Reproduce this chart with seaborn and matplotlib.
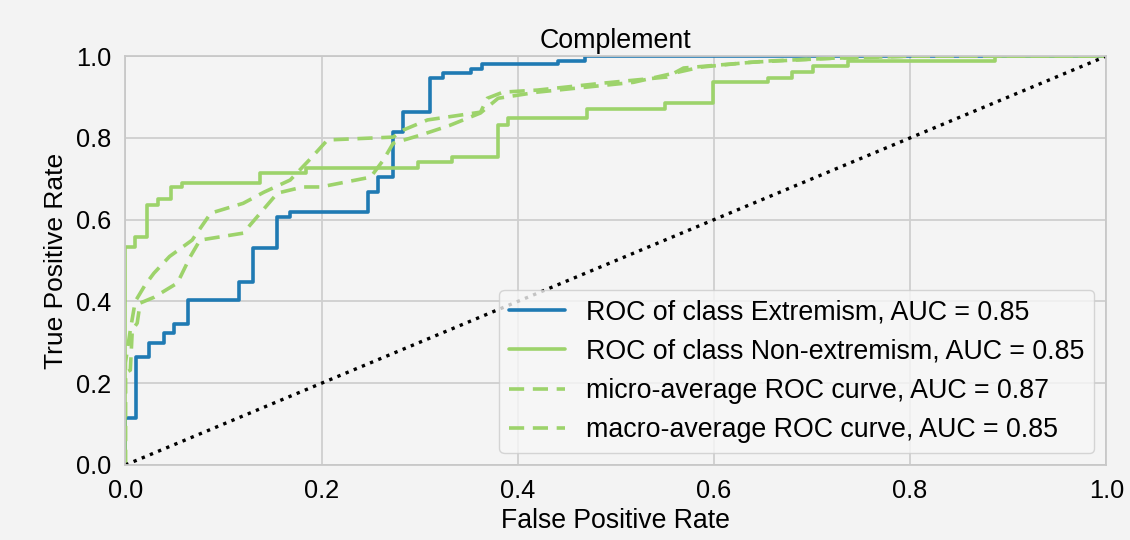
import numpy as np
import pandas as pd
import matplotlib
matplotlib.use("Agg")
import matplotlib.pyplot as plt
import seaborn as sns

# ---- data ----
ext_fpr = [0, 0, 0.011, 0.011, 0.024, 0.024, 0.039, 0.039, 0.050, 0.050, 0.064, 0.064,
           0.116, 0.116, 0.130, 0.130, 0.155, 0.155, 0.168, 0.168, 0.247, 0.247, 0.258, 0.258,
           0.273, 0.273, 0.283, 0.283, 0.311, 0.311, 0.324, 0.324, 0.352, 0.352, 0.364, 0.364,
           0.441, 0.441, 0.469, 0.469, 1.0]
ext_tpr = [0, 0.115, 0.115, 0.264, 0.264, 0.298, 0.298, 0.323, 0.323, 0.345, 0.345, 0.403,
           0.403, 0.447, 0.447, 0.531, 0.531, 0.606, 0.606, 0.619, 0.619, 0.668, 0.668, 0.704,
           0.704, 0.814, 0.814, 0.863, 0.863, 0.946, 0.946, 0.958, 0.958, 0.968, 0.968, 0.980,
           0.980, 0.988, 0.988, 1.0, 1.0]

non_fpr = [0, 0, 0.010, 0.010, 0.022, 0.022, 0.033, 0.033, 0.046, 0.046, 0.058, 0.058,
           0.137, 0.137, 0.184, 0.184, 0.298, 0.298, 0.333, 0.333, 0.380, 0.380, 0.390, 0.390,
           0.471, 0.471, 0.550, 0.550, 0.599, 0.599, 0.655, 0.655, 0.680, 0.680, 0.701, 0.701,
           0.737, 0.737, 0.887, 0.887, 1.0]
non_tpr = [0, 0.533, 0.533, 0.557, 0.557, 0.636, 0.636, 0.650, 0.650, 0.680, 0.680, 0.689,
           0.689, 0.714, 0.714, 0.726, 0.726, 0.741, 0.741, 0.753, 0.753, 0.831, 0.831, 0.848,
           0.848, 0.870, 0.870, 0.885, 0.885, 0.936, 0.936, 0.946, 0.946, 0.961, 0.961, 0.976,
           0.976, 0.988, 0.988, 1.0, 1.0]

micro_fpr = [0, 0, 0.005, 0.010, 0.020, 0.029, 0.045, 0.068, 0.087, 0.120, 0.141, 0.168,
             0.189, 0.206, 0.273, 0.283, 0.308, 0.362, 0.369, 0.385, 0.420, 0.487, 0.552,
             0.569, 0.603, 0.654, 0.722, 0.800, 1.0]
micro_tpr = [0, 0.250, 0.330, 0.400, 0.440, 0.469, 0.510, 0.550, 0.616, 0.640, 0.667, 0.697,
             0.750, 0.795, 0.802, 0.819, 0.844, 0.863, 0.897, 0.912, 0.917, 0.934, 0.949,
             0.971, 0.978, 0.988, 0.995, 1.0, 1.0]

macro_fpr = [0, 0, 0.005, 0.007, 0.012, 0.015, 0.029, 0.053, 0.066, 0.076, 0.120, 0.155,
             0.181, 0.199, 0.250, 0.263, 0.273, 0.301, 0.330, 0.362, 0.380, 0.420, 0.518,
             0.586, 0.637, 0.720, 0.800, 1.0]
macro_tpr = [0, 0.225, 0.232, 0.330, 0.347, 0.396, 0.410, 0.445, 0.509, 0.550, 0.567, 0.665,
             0.680, 0.680, 0.704, 0.746, 0.787, 0.807, 0.830, 0.861, 0.897, 0.912, 0.936,
             0.973, 0.985, 0.995, 1.0, 1.0]

labels = ["ROC of class Extremism, AUC = 0.85",
          "ROC of class Non-extremism, AUC = 0.85",
          "micro-average ROC curve, AUC = 0.87",
          "macro-average ROC curve, AUC = 0.85"]
chance_x = [0, 1]
chance_y = [0, 1]
tick_vals = [0, 0.2, 0.4, 0.6, 0.8, 1.0]
tick_labels = ["0.0", "0.2", "0.4", "0.6", "0.8", "1.0"]

# ---- style ----
sns.set_theme(style="whitegrid")
plt.rcParams["font.family"] = ["Liberation Sans", "DejaVu Sans"]
plt.rcParams["text.color"] = "black"
BG = "#f3f3f3"
BLUE = "#1f7ab3"
GREEN = "#9dd36b"

fig = plt.figure(figsize=(11.3, 5.4), dpi=100, facecolor=BG)
ax = fig.add_axes([0.111, 0.139, 0.868, 0.757])
ax.set_facecolor("#f4f4f4")

series = [
    (ext_fpr, ext_tpr, BLUE, "-"),
    (non_fpr, non_tpr, GREEN, "-"),
    (micro_fpr, micro_tpr, GREEN, "--"),
    (macro_fpr, macro_tpr, GREEN, "--"),
]
for (fx, ty, col, ls), lab in zip(series, labels):
    df = pd.DataFrame({"fpr": fx, "tpr": ty})
    sns.lineplot(data=df, x="fpr", y="tpr", ax=ax, color=col, lw=2.6,
                 sort=False, estimator=None, label=lab, linestyle=ls)
for ln in ax.get_lines()[2:4]:
    ln.set_dashes((4.2, 2.4))

sns.lineplot(x=chance_x, y=chance_y, ax=ax, color="black", lw=2.4,
             linestyle=":", legend=False)

ax.set_xlim(0, 1)
ax.set_ylim(0, 1)
ax.set_xticks(tick_vals)
ax.set_yticks(tick_vals)
ax.set_xticklabels(tick_labels)
ax.set_yticklabels(tick_labels)
ax.tick_params(labelsize=18.3, colors="black", pad=4)
ax.grid(True, color="#cfcfcf", lw=1.3)
for s in ax.spines.values():
    s.set_color("#c8c8c8")
    s.set_linewidth(1.3)

ax.set_xlabel("False Positive Rate", fontsize=19.2, color="black", labelpad=4)
ax.set_ylabel("True Positive Rate", fontsize=19, color="black", labelpad=6)
ax.set_title("Complement", fontsize=19.3, color="black", pad=6)

leg = ax.legend(loc="lower right", fontsize=19.3, frameon=True, handlelength=2.1,
                labelspacing=0.5, borderpad=0.35, handletextpad=0.8,
                borderaxespad=0.45)
for t in leg.get_texts():
    t.set_color("black")
leg.get_frame().set_facecolor("#f7f7f7")
leg.get_frame().set_edgecolor("#cccccc")
leg.get_frame().set_alpha(0.8)

fig.savefig("out.png", dpi=100, facecolor=BG)
